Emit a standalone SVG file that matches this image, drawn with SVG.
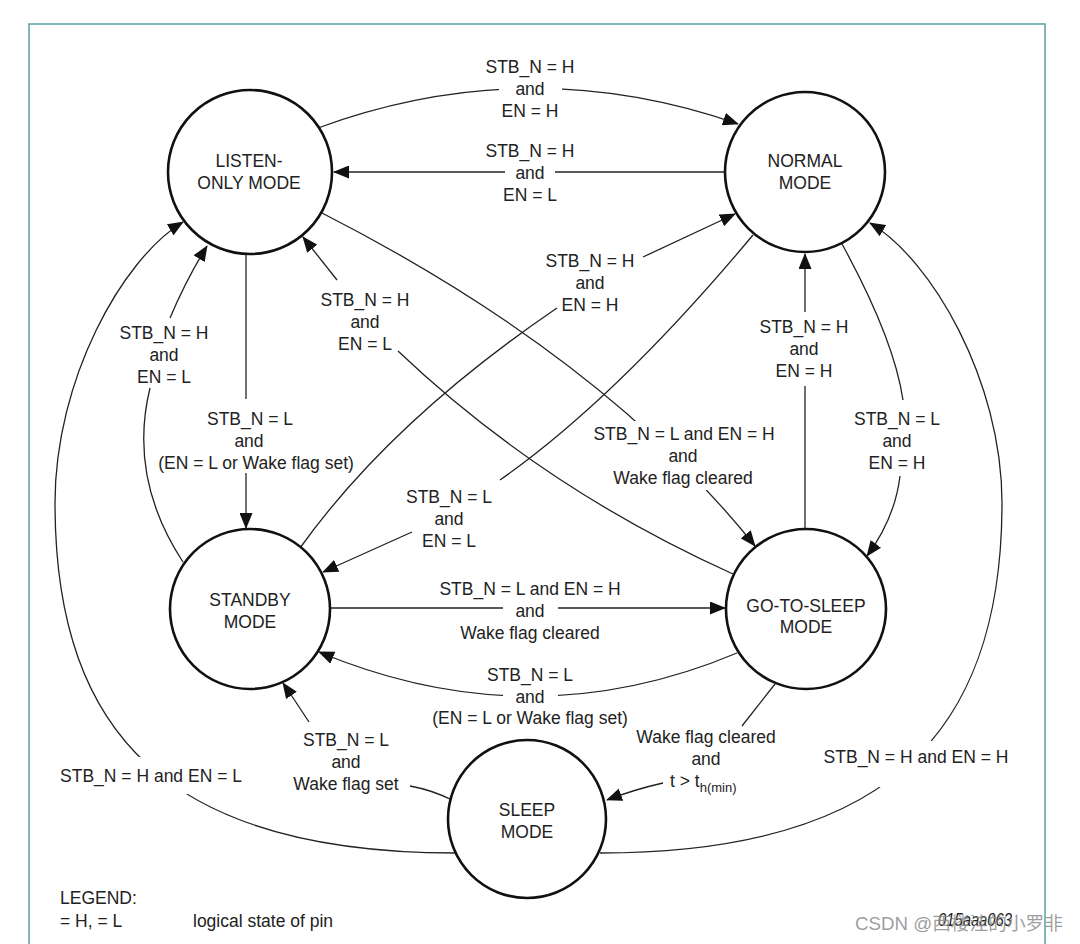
<svg xmlns="http://www.w3.org/2000/svg" width="1080" height="944" viewBox="0 0 1080 944">
<defs>
<style>
.t{font-family:"Liberation Sans",Arial,sans-serif;font-size:17.5px;fill:#222;text-anchor:middle}
.tl{font-family:"Liberation Sans",Arial,sans-serif;font-size:17.5px;fill:#222}
.c{fill:none;stroke:#222;stroke-width:1.3}
.ko{fill:#fff}
.node circle{fill:#fff;stroke:#111;stroke-width:2.6}
</style>
<marker id="ah" markerUnits="userSpaceOnUse" markerWidth="16" markerHeight="13" viewBox="0 0 16 13" refX="15" refY="6.5" orient="auto">
<path d="M0,0 L16,6.5 L0,13 z" fill="#111"/>
</marker>
</defs>
<rect width="1080" height="944" fill="#fff"/>
<path d="M29,944 V24 H1045 V944" fill="none" stroke="#5b9ea2" stroke-width="1.5"/>

<g id="connectors">
<path class="c" d="M318,128 Q528,51 738,124" marker-end="url(#ah)"/>
<path class="c" d="M725,172 H555"/>
<path class="c" d="M505,172 H334" marker-end="url(#ah)"/>
<path class="c" d="M246,254 V399"/>
<path class="c" d="M246,473 V528" marker-end="url(#ah)"/>
<path class="c" d="M183,562 Q128,478 150,388"/>
<path class="c" d="M170,318 Q186,280 207,246" marker-end="url(#ah)"/>
<path class="c" d="M456,853 C175,853 55,740 55,503 C55,380 122,259 183,222" marker-end="url(#ah)"/>
<path class="c" d="M300,548 Q391,421 557,308"/>
<path class="c" d="M643,257 L735,214" marker-end="url(#ah)"/>
<path class="c" d="M753,235 Q617,398 500,480"/>
<path class="c" d="M412,532 L323,572" marker-end="url(#ah)"/>
<path class="c" d="M733,574 Q542,488 398,351"/>
<path class="c" d="M337,280 L303,237" marker-end="url(#ah)"/>
<path class="c" d="M322,213 Q604,357 755,546" marker-end="url(#ah)"/>
<path class="c" d="M805,529 V386"/>
<path class="c" d="M805,312 V254" marker-end="url(#ah)"/>
<path class="c" d="M842,244 Q894,339 903,400"/>
<path class="c" d="M900,476 Q895,518 867,556" marker-end="url(#ah)"/>
<path class="c" d="M330,608 H503"/>
<path class="c" d="M558,608 H725" marker-end="url(#ah)"/>
<path class="c" d="M737,653 Q530,740 319,652" marker-end="url(#ah)"/>
<path class="c" d="M775,684 L742,726"/>
<path class="c" d="M663,783 Q636,789 607,800" marker-end="url(#ah)"/>
<path class="c" d="M452,800 Q432,790 410,786"/>
<path class="c" d="M309,722 Q296,702 283,683" marker-end="url(#ah)"/>
<path class="c" d="M600,853 C880,853 1002,740 1002,503 C1002,380 931,259 870,223" marker-end="url(#ah)"/>
</g>

<g id="labels">
<rect class="ko" x="499" y="80" width="63" height="19"/>
<rect class="ko" x="588" y="421" width="192" height="69"/>
<rect class="ko" x="503" y="688" width="55" height="18"/>
<rect class="ko" x="52" y="757" width="198" height="37"/>
<rect class="ko" x="818" y="741" width="197" height="46"/>

<text class="t" x="530" y="73">STB_N = H</text>
<text class="t" x="530" y="95">and</text>
<text class="t" x="530" y="117">EN = H</text>

<text class="t" x="530" y="157">STB_N = H</text>
<text class="t" x="530" y="179">and</text>
<text class="t" x="530" y="201">EN = L</text>

<text class="t" x="590" y="267">STB_N = H</text>
<text class="t" x="590" y="289">and</text>
<text class="t" x="590" y="311">EN = H</text>

<text class="t" x="365" y="306">STB_N = H</text>
<text class="t" x="365" y="328">and</text>
<text class="t" x="365" y="350">EN = L</text>

<text class="t" x="164" y="339">STB_N = H</text>
<text class="t" x="164" y="361">and</text>
<text class="t" x="164" y="383">EN = L</text>

<text class="t" x="804" y="333">STB_N = H</text>
<text class="t" x="804" y="355">and</text>
<text class="t" x="804" y="377">EN = H</text>

<text class="t" x="897" y="425">STB_N = L</text>
<text class="t" x="897" y="447">and</text>
<text class="t" x="897" y="469">EN = H</text>

<text class="t" x="250" y="425">STB_N = L</text>
<text class="t" x="249" y="447">and</text>
<text class="t" x="256" y="469">(EN = L or Wake flag set)</text>

<text class="t" x="684" y="440">STB_N = L and EN = H</text>
<text class="t" x="683" y="462">and</text>
<text class="t" x="683" y="484">Wake flag cleared</text>

<text class="t" x="449" y="503">STB_N = L</text>
<text class="t" x="449" y="525">and</text>
<text class="t" x="449" y="547">EN = L</text>

<text class="t" x="530" y="595">STB_N = L and EN = H</text>
<text class="t" x="530" y="617">and</text>
<text class="t" x="530" y="639">Wake flag cleared</text>

<text class="t" x="530" y="681">STB_N = L</text>
<text class="t" x="530" y="703">and</text>
<text class="t" x="530" y="724">(EN = L or Wake flag set)</text>

<text class="t" x="706" y="743">Wake flag cleared</text>
<text class="t" x="706" y="765">and</text>
<text class="tl" x="670" y="787">t &gt; t<tspan font-size="13" dy="5">h(min)</tspan></text>

<text class="t" x="346" y="746">STB_N = L</text>
<text class="t" x="346" y="768">and</text>
<text class="t" x="346" y="790">Wake flag set</text>

<text class="t" x="151" y="782">STB_N = H and EN = L</text>
<text class="t" x="916" y="763">STB_N = H and EN = H</text>

<text class="tl" x="60" y="904">LEGEND:</text>
<text class="tl" x="60" y="927">= H, = L</text>
<text class="tl" x="193" y="927">logical state of pin</text>
<text class="tl" x="938" y="926" font-size="13.5" font-style="italic" textLength="74" lengthAdjust="spacingAndGlyphs">015aaa063</text>
<text x="855" y="930" textLength="208" lengthAdjust="spacingAndGlyphs" style="font-family:'Liberation Sans','Noto Sans CJK SC',sans-serif;font-size:18px;fill:#8c8c8c;fill-opacity:0.85">CSDN @西楼洼的小罗非</text>
</g>

<g id="listen" class="node">
<circle cx="250" cy="172" r="82"/>
<text class="t" x="249" y="167">LISTEN-</text>
<text class="t" x="249" y="189">ONLY MODE</text>
</g>
<g id="normal" class="node">
<circle cx="805" cy="172" r="80"/>
<text class="t" x="805" y="167">NORMAL</text>
<text class="t" x="805" y="189">MODE</text>
</g>
<g id="standby" class="node">
<circle cx="250" cy="609" r="80"/>
<text class="t" x="250" y="606">STANDBY</text>
<text class="t" x="250" y="628">MODE</text>
</g>
<g id="gotosleep" class="node">
<circle cx="806" cy="609" r="80"/>
<text class="t" x="806" y="612">GO-TO-SLEEP</text>
<text class="t" x="806" y="633">MODE</text>
</g>
<g id="sleep" class="node">
<circle cx="527" cy="819" r="79"/>
<text class="t" x="527" y="816">SLEEP</text>
<text class="t" x="527" y="838">MODE</text>
</g>
</svg>
